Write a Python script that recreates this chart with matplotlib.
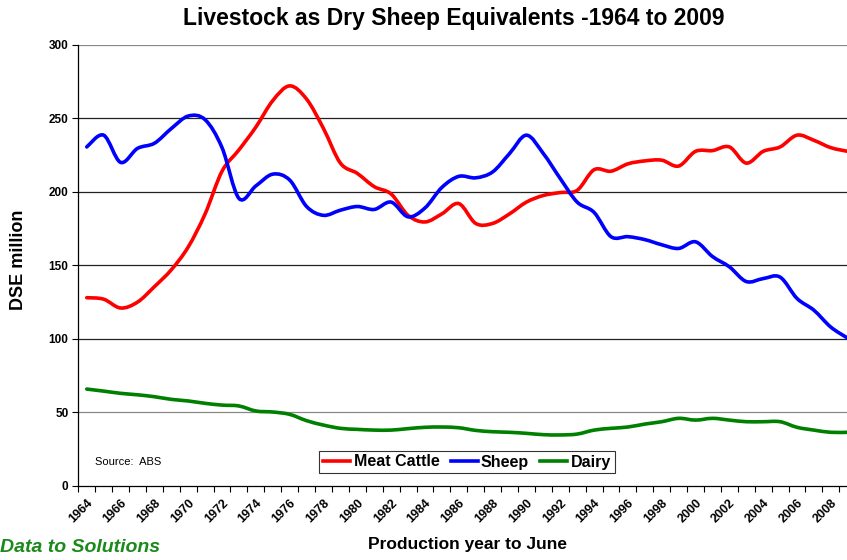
import numpy as np
import matplotlib.pyplot as plt
from matplotlib.path import Path
from matplotlib.patches import PathPatch
from matplotlib.lines import Line2D

plt.rcParams['font.family'] = ['Liberation Sans', 'DejaVu Sans']

years = list(range(1964, 2010))

meat_cattle = [128, 127, 121, 125, 135.5, 147, 162.5, 185, 214, 228.5,
               244, 262, 272, 263, 243, 219.5, 212.5, 203.5, 198.5, 184,
               179.5, 185, 192, 178.5, 178.5, 185, 193, 197.5, 199.5, 201,
               215, 214, 219, 221, 221.5, 217.5, 227.5, 228, 230.5, 219.5,
               227.5, 230.5, 238.5, 235, 230, 227.5]

sheep = [230.5, 238.5, 220, 229.5, 233, 243, 251.5, 249, 230, 195.5,
         204, 212, 208, 190, 184, 187.5, 190, 188, 193, 183,
         189, 203, 210.5, 209.5, 213.5, 226, 238.5, 226, 209, 193,
         186, 169.5, 169.5, 167.5, 164, 161.5, 166, 156, 149, 139,
         141, 142, 127.5, 119.5, 108, 100.5]

dairy = [65.9, 64.5, 63, 62, 60.7, 58.9, 57.8, 56.2, 55, 54.4,
         51, 50.3, 48.7, 44.4, 41.4, 39.2, 38.5, 38, 38, 39,
         39.9, 40.1, 39.6, 37.8, 36.9, 36.5, 35.8, 34.9, 34.7, 35.3,
         38, 39.2, 40.1, 42.1, 43.7, 46, 44.8, 46, 44.8, 43.7,
         43.7, 43.7, 39.9, 38, 36.5, 36.5]

series = [('Meat Cattle', meat_cattle, '#ff0000'),
          ('Sheep', sheep, '#0000ff'),
          ('Dairy', dairy, '#008000')]


def smooth_path(xs, ys):
    # excel style smoothed line: bezier segments through every point
    p = np.column_stack([xs, ys]).astype(float)
    ext = np.vstack([p[0], p, p[-1]])
    verts = [p[0]]
    codes = [Path.MOVETO]
    for i in range(len(p) - 1):
        p0, p1, p2, p3 = ext[i], ext[i + 1], ext[i + 2], ext[i + 3]
        verts += [p1 + (p2 - p0) / 6, p2 - (p3 - p1) / 6, p2]
        codes += [Path.CURVE4] * 3
    return Path(verts, codes)


fig = plt.figure(figsize=(8.47, 5.6), dpi=100)
ax = fig.add_axes([78.3 / 847, 74 / 560, (856.2 - 78.3) / 847, (486 - 44.7) / 560])

xpos = np.arange(len(years))
for name, vals, col in series:
    ax.add_patch(PathPatch(smooth_path(xpos, vals), facecolor='none',
                           edgecolor=col, lw=2.6, capstyle='round',
                           joinstyle='round', zorder=3))

ax.set_xlim(-0.5, len(years) - 0.5)
ax.set_ylim(0, 300)

# gridlines
for v in range(50, 301, 50):
    ax.axhline(v, color='#888888' if v in (50, 300) else '#222222', lw=0.9, zorder=1)

for s in ['top', 'right']:
    ax.spines[s].set_visible(False)
ax.spines['left'].set_linewidth(0.9)
ax.spines['bottom'].set_linewidth(0.9)

ax.set_yticks(range(0, 301, 50))
ax.set_yticklabels([str(v) for v in range(0, 301, 50)], fontsize=8.5, fontweight='bold')
ax.tick_params(axis='y', length=4, width=0.8, pad=3)

ax.set_xticks(np.arange(-0.5, len(years), 1.0), minor=True)
ax.set_xticks(xpos[::2])
ax.set_xticklabels([str(y) for y in years[::2]], rotation=45, ha='right',
                   rotation_mode='anchor', fontsize=9, fontweight='bold')
ax.tick_params(axis='x', which='major', length=0, pad=8)
ax.tick_params(axis='x', which='minor', length=4, width=0.8)

fig.text(19 / 847, 1 - 260 / 560, 'DSE million', fontsize=13, fontweight='bold',
         rotation=90, ha='center', va='center')
fig.text(467 / 847, 1 - 545 / 560, 'Production year to June', fontsize=12.5,
         fontweight='bold', ha='center', va='center')
fig.text(454 / 847, 1 - 18 / 560, 'Livestock as Dry Sheep Equivalents -1964 to 2009',
         fontsize=16.5, fontweight='bold', ha='center', va='center')
fig.text(95 / 847, 1 - 462 / 560, 'Source:  ABS', fontsize=8, ha='left', va='center')
fig.text(0, 1 - 548 / 560, 'Data to Solutions', fontsize=14, fontweight='bold',
         style='italic', color='#1a8a1a', ha='left', va='center')

handles = [Line2D([], [], color=c, lw=2.6) for _, _, c in series]
leg = ax.legend(handles, [n for n, _, _ in series], loc='center',
                bbox_to_anchor=((467 - 78.3) / (856.2 - 78.3), (486 - 462) / (486 - 44.7)),
                ncol=3, prop={'weight': 'bold', 'size': 11.5},
                handlelength=1.7, handletextpad=0.2, columnspacing=0.7,
                frameon=True, fancybox=False, borderpad=0.25)
leg.get_frame().set_edgecolor('black')
leg.get_frame().set_linewidth(0.8)

fig.savefig('out.png', dpi=100)
